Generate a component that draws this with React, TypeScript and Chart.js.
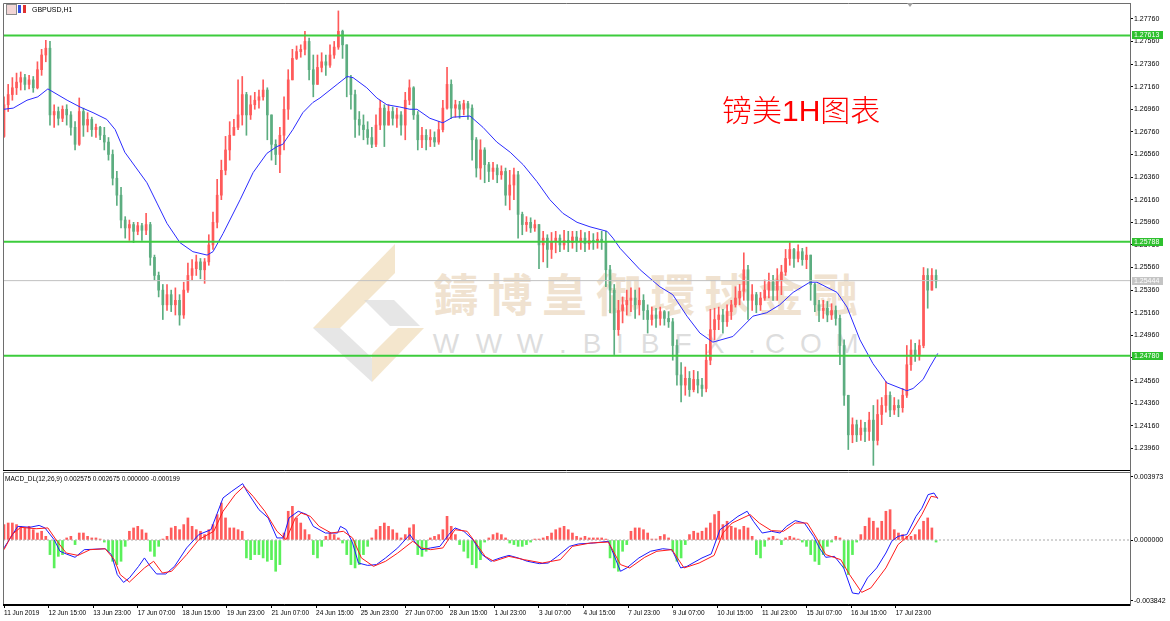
import React, { useEffect, useRef } from "react";
import { Chart, registerables } from "chart.js";
Chart.register(...registerables);

// ---------- price data (3-hour candles, GBPUSD) ----------
const firstOpen = 1.2672;
const closes = [
  1.2700, 1.2709, 1.2715, 1.2720, 1.2724, 1.2718, 1.2722, 1.2715, 1.2731, 1.2744,
  1.2750, 1.2691, 1.2694, 1.2688, 1.2696, 1.2691, 1.2680, 1.2665, 1.2694, 1.2682,
  1.2687, 1.2678, 1.2680, 1.2673, 1.2667, 1.2656, 1.2635, 1.2620, 1.2598, 1.2591,
  1.2594, 1.2588, 1.2593, 1.2589, 1.2594, 1.2565, 1.2549, 1.2536, 1.2523, 1.2532,
  1.2523, 1.2527, 1.2514, 1.2536, 1.2549, 1.2555, 1.2561, 1.2554, 1.2561, 1.2576,
  1.2596, 1.2620, 1.2642, 1.2660, 1.2673, 1.2680, 1.2691, 1.2709, 1.2691, 1.2700,
  1.2704, 1.2707, 1.2713, 1.2691, 1.2665, 1.2656, 1.2673, 1.2696, 1.2722, 1.2741,
  1.2747, 1.2749, 1.2756, 1.2731, 1.2718, 1.2733, 1.2738, 1.2735, 1.2744, 1.2751,
  1.2765, 1.2753, 1.2724, 1.2709, 1.2687, 1.2682, 1.2678, 1.2671, 1.2665, 1.2682,
  1.2697, 1.2682, 1.2694, 1.2688, 1.2691, 1.2682, 1.2704, 1.2715, 1.2691, 1.2669,
  1.2673, 1.2669, 1.2671, 1.2667, 1.2678, 1.2697, 1.2718, 1.2697, 1.2700, 1.2696,
  1.2701, 1.2697, 1.2669, 1.2644, 1.2660, 1.2647, 1.2641, 1.2644, 1.2638, 1.2641,
  1.2620, 1.2629, 1.2638, 1.2603, 1.2594, 1.2596, 1.2591, 1.2594, 1.2576, 1.2582,
  1.2572, 1.2579, 1.2582, 1.2576, 1.2580, 1.2578, 1.2583, 1.2579, 1.2582, 1.2577,
  1.2580, 1.2579, 1.2581, 1.2579, 1.2554, 1.2536, 1.2501, 1.2518, 1.2523, 1.2527,
  1.2529, 1.2523, 1.2527, 1.2518, 1.2510, 1.2514, 1.2511, 1.2517, 1.2511, 1.2508,
  1.2487, 1.2461, 1.2452, 1.2458, 1.2448, 1.2457, 1.2452, 1.2449, 1.2474, 1.2501,
  1.2510, 1.2514, 1.2508, 1.2517, 1.2523, 1.2529, 1.2535, 1.2554, 1.2527, 1.2532,
  1.2523, 1.2529, 1.2536, 1.2543, 1.2536, 1.2545, 1.2552, 1.2564, 1.2572, 1.2564,
  1.2570, 1.2563, 1.2567, 1.2541, 1.2523, 1.2518, 1.2520, 1.2514, 1.2518, 1.2511,
  1.2487, 1.2443, 1.2408, 1.2417, 1.2408, 1.2414, 1.2411, 1.2421, 1.2403, 1.2426,
  1.2434, 1.2443, 1.2430, 1.2434, 1.2432, 1.2443, 1.2470, 1.2483, 1.2479, 1.2487,
  1.2549, 1.2536, 1.2549, 1.2544,
];
const highs = [
  1.2707, 1.2718, 1.2724, 1.2728, 1.2729, 1.2727, 1.2726, 1.2725, 1.2738, 1.2749,
  1.2757, 1.2756, 1.2700, 1.2698, 1.2699, 1.2700, 1.2694, 1.2685, 1.2706, 1.2697,
  1.2693, 1.2689, 1.2683, 1.2681, 1.2680, 1.2671, 1.2660, 1.2641, 1.2627, 1.2601,
  1.2598, 1.2596, 1.2596, 1.2595, 1.2604, 1.2596, 1.2567, 1.2552, 1.2541, 1.2541,
  1.2536, 1.2538, 1.2532, 1.2543, 1.2560, 1.2563, 1.2567, 1.2564, 1.2564, 1.2585,
  1.2605, 1.2634, 1.2651, 1.2672, 1.2685, 1.2687, 1.2722, 1.2725, 1.2711, 1.2708,
  1.2711, 1.2713, 1.2722, 1.2715, 1.2691, 1.2669, 1.2680, 1.2707, 1.2731, 1.2749,
  1.2752, 1.2753, 1.2765, 1.2759, 1.2744, 1.2744, 1.2746, 1.2744, 1.2753, 1.2756,
  1.2783, 1.2766, 1.2753, 1.2726, 1.2713, 1.2694, 1.2691, 1.2685, 1.2680, 1.2691,
  1.2704, 1.2700, 1.2700, 1.2698, 1.2697, 1.2694, 1.2711, 1.2722, 1.2716, 1.2694,
  1.2680, 1.2678, 1.2678, 1.2676, 1.2685, 1.2704, 1.2733, 1.2722, 1.2704, 1.2703,
  1.2704, 1.2703, 1.2700, 1.2671, 1.2669, 1.2662, 1.2649, 1.2649, 1.2647, 1.2646,
  1.2644, 1.2642, 1.2644, 1.2641, 1.2605, 1.2601, 1.2600, 1.2598, 1.2594, 1.2588,
  1.2585, 1.2587, 1.2588, 1.2585, 1.2589, 1.2588, 1.2588, 1.2588, 1.2589, 1.2587,
  1.2588, 1.2586, 1.2587, 1.2588, 1.2588, 1.2558, 1.2541, 1.2527, 1.2530, 1.2536,
  1.2538, 1.2536, 1.2538, 1.2532, 1.2523, 1.2521, 1.2520, 1.2521, 1.2518, 1.2517,
  1.2511, 1.2492, 1.2472, 1.2468, 1.2464, 1.2465, 1.2464, 1.2458, 1.2488, 1.2519,
  1.2520, 1.2521, 1.2519, 1.2523, 1.2527, 1.2539, 1.2541, 1.2569, 1.2558, 1.2541,
  1.2534, 1.2534, 1.2545, 1.2551, 1.2549, 1.2555, 1.2558, 1.2572, 1.2578, 1.2573,
  1.2576, 1.2573, 1.2574, 1.2567, 1.2542, 1.2527, 1.2527, 1.2526, 1.2524, 1.2522,
  1.2514, 1.2492, 1.2443, 1.2423, 1.2421, 1.2421, 1.2419, 1.2428, 1.2434, 1.2439,
  1.2441, 1.2455, 1.2446, 1.2441, 1.2439, 1.2449, 1.2487, 1.2492, 1.2489, 1.2492,
  1.2556, 1.2555, 1.2555, 1.2554,
];
const lows = [
  1.2671, 1.2694, 1.2704, 1.2709, 1.2713, 1.2713, 1.2714, 1.2711, 1.2714, 1.2726,
  1.2738, 1.2682, 1.2680, 1.2682, 1.2685, 1.2682, 1.2673, 1.2660, 1.2664, 1.2672,
  1.2676, 1.2672, 1.2671, 1.2669, 1.2660, 1.2651, 1.2629, 1.2611, 1.2591, 1.2582,
  1.2580, 1.2578, 1.2585, 1.2580, 1.2585, 1.2558, 1.2545, 1.2530, 1.2510, 1.2518,
  1.2517, 1.2514, 1.2505, 1.2511, 1.2534, 1.2545, 1.2549, 1.2546, 1.2542, 1.2558,
  1.2572, 1.2591, 1.2616, 1.2638, 1.2651, 1.2673, 1.2678, 1.2682, 1.2673, 1.2687,
  1.2696, 1.2697, 1.2704, 1.2669, 1.2651, 1.2647, 1.2640, 1.2660, 1.2687, 1.2722,
  1.2740, 1.2742, 1.2744, 1.2722, 1.2707, 1.2720, 1.2729, 1.2726, 1.2733, 1.2741,
  1.2749, 1.2741, 1.2707, 1.2696, 1.2671, 1.2673, 1.2669, 1.2665, 1.2662, 1.2663,
  1.2678, 1.2663, 1.2682, 1.2682, 1.2680, 1.2673, 1.2669, 1.2700, 1.2687, 1.2660,
  1.2662, 1.2660, 1.2663, 1.2663, 1.2665, 1.2676, 1.2696, 1.2688, 1.2689, 1.2688,
  1.2691, 1.2687, 1.2651, 1.2636, 1.2634, 1.2631, 1.2632, 1.2634, 1.2631, 1.2634,
  1.2611, 1.2607, 1.2616, 1.2582, 1.2585, 1.2588, 1.2587, 1.2588, 1.2555, 1.2561,
  1.2556, 1.2564, 1.2569, 1.2570, 1.2572, 1.2570, 1.2573, 1.2570, 1.2572, 1.2570,
  1.2572, 1.2572, 1.2573, 1.2572, 1.2539, 1.2516, 1.2479, 1.2496, 1.2507, 1.2514,
  1.2517, 1.2511, 1.2514, 1.2510, 1.2498, 1.2505, 1.2503, 1.2505, 1.2505, 1.2503,
  1.2474, 1.2452, 1.2437, 1.2443, 1.2442, 1.2446, 1.2445, 1.2442, 1.2446, 1.2470,
  1.2492, 1.2501, 1.2498, 1.2504, 1.2510, 1.2521, 1.2523, 1.2527, 1.2510, 1.2518,
  1.2516, 1.2518, 1.2527, 1.2529, 1.2527, 1.2527, 1.2532, 1.2549, 1.2558, 1.2556,
  1.2561, 1.2558, 1.2555, 1.2527, 1.2517, 1.2508, 1.2511, 1.2508, 1.2510, 1.2505,
  1.2470, 1.2434, 1.2395, 1.2401, 1.2402, 1.2403, 1.2402, 1.2403, 1.2381, 1.2399,
  1.2417, 1.2428, 1.2424, 1.2426, 1.2424, 1.2428, 1.2441, 1.2465, 1.2473, 1.2474,
  1.2485, 1.2520, 1.2536, 1.2538,
];

// moving average (blue line), sampled at bar positions
const maIndex = [
  0, 2.2, 5.5, 8.1, 10.5, 15.1, 18.2, 21.3, 24.6, 26.6,
  28.9, 34.2, 36.6, 39.0, 42.1, 45.2, 48.6, 50.0, 52.4, 56.5,
  59.6, 62.9, 65.3, 66.7, 69.1, 71.5, 73.9, 75.6, 79.7, 82.1,
  83.5, 86.8, 89.2, 91.6, 94.7, 97.1, 98.8, 101.9, 105.0, 107.4,
  111.5, 114.6, 117.9, 121.1, 124.2, 127.5, 130.6, 133.7, 137.1, 140.2,
  144.3, 145.7, 147.4, 152.2, 156.9, 160.0, 163.4, 166.5, 169.6, 174.4,
  179.2, 182.5, 185.6, 188.8, 192.8, 194.5, 199.3, 201.7, 204.8, 207.9,
  211.2, 216.0, 217.5, 219.9, 221.5, 223.4,
];
const maValue = [
  1.2696, 1.2697, 1.2704, 1.2707, 1.2714, 1.2704, 1.2698, 1.2693, 1.2687, 1.2678,
  1.2658, 1.2631, 1.2613, 1.2595, 1.2578, 1.2570, 1.2567, 1.2570, 1.2586, 1.2616,
  1.2640, 1.2657, 1.2663, 1.2665, 1.2678, 1.2693, 1.2702, 1.2706, 1.2718, 1.2725,
  1.2724, 1.2715, 1.2706, 1.2700, 1.2698, 1.2696, 1.2696, 1.2688, 1.2684, 1.2689,
  1.2690, 1.2680, 1.2667, 1.2658, 1.2647, 1.2632, 1.2616, 1.2604, 1.2596, 1.2592,
  1.2588, 1.2582, 1.2573, 1.2554, 1.2539, 1.2532, 1.2513, 1.2498, 1.2490, 1.2495,
  1.2513, 1.2516, 1.2523, 1.2534, 1.2543, 1.2543, 1.2534, 1.2521, 1.2492, 1.2471,
  1.2454, 1.2447, 1.2449, 1.2457, 1.2468, 1.2480,
];

const levelValues = [1.27613, 1.25788, 1.2478];
const lastPrice = 1.25444;
const priceTicks = [
  1.2396, 1.2416, 1.2436, 1.2456, 1.2476, 1.2496, 1.2516, 1.2536, 1.2556, 1.2576,
  1.2596, 1.2616, 1.2636, 1.2656, 1.2676, 1.2696, 1.2716, 1.2736, 1.2756, 1.2776,
];

const timeLabels = [
  "11 Jun 2019", "12 Jun 15:00", "13 Jun 23:00", "17 Jun 07:00", "18 Jun 15:00",
  "19 Jun 23:00", "21 Jun 07:00", "24 Jun 15:00", "25 Jun 23:00", "27 Jun 07:00",
  "28 Jun 15:00", "1 Jul 23:00", "3 Jul 07:00", "4 Jul 15:00", "7 Jul 23:00",
  "9 Jul 07:00", "10 Jul 15:00", "11 Jul 23:00", "15 Jul 07:00", "16 Jul 15:00",
  "17 Jul 23:00",
];
const hoursPerLabel = 32;
const hoursPerBar = 3;

// ---------- MACD ----------
const histValues = [
  0.00097, 0.00107, 0.00107, 0.00097, 0.00086, 0.00076, 0.00086, 0.00065, 0.00044, 0.00055,
  0.00023, -0.00092, -0.00176, -0.00103, -0.00092, 0.00013, 0.00023, -0.00029, 0.00044, 0.00044,
  0.00023, 0.00013, 0.00013, 0.00006, -0.00013, -0.00071, -0.00134, -0.00155, -0.00134, -0.0004,
  0.00055, 0.00076, 0.00086, 0.00065, 0.00044, -0.00071, -0.00103, -0.0004, 0.00006, 0.00023,
  0.00076, 0.00086, 0.00065, 0.00097, 0.00139, 0.00086, 0.00065, 0.00055, 0.00034, 0.00065,
  0.00097, 0.0016, 0.00233, 0.00139, 0.00076, 0.00076, 0.00065, 0.00055, -0.00113, -0.00124,
  -0.00092, -0.00092, -0.00113, -0.00134, -0.00124, -0.00197, -0.00155, 0.00044, 0.00181, 0.00212,
  0.00139, 0.00107, 0.00065, 0.00034, -0.00092, -0.00113, -0.0004, 0.00023, 0.00044, 0.00034,
  0.00013, -0.00019, -0.00092, -0.00155, -0.00176, -0.00155, -0.00092, -0.0004, 0.00013, 0.00065,
  0.00086, 0.00107, 0.00086, 0.00065, 0.00044, 0.00013, 0.00034, 0.00076, 0.00097, -0.00092,
  -0.00103, -0.00071, 0.00013, 0.00023, 0.00034, 0.00065, 0.00149, 0.00086, 0.00034, -0.00029,
  -0.00071, -0.00113, -0.00155, -0.00176, -0.00124, -0.00013, 0.00013, 0.00034, 0.00044, 0.00034,
  0.00013, -0.00019, -0.00029, -0.0004, -0.0004, -0.00029, -0.00013, 0.00006, 0.00006, 0.00013,
  0.00023, 0.00044, 0.00065, 0.00076, 0.00086, 0.00065, 0.00044, 0.00023, 0.00013, 0.00023,
  0.00013, 0.00013, 0.00013, 0.00013, 0.00006, -0.00113, -0.00176, -0.00197, -0.00071, -0.00029,
  0.00055, 0.00076, 0.00076, 0.00065, 0.00044, 0.00006, 0.00006, 0.00023, 0.00034, 0.00013,
  -0.00071, -0.00134, -0.00113, -0.00029, 0.00034, 0.00055, 0.00044, 0.00055, 0.00076, 0.00107,
  0.0016, 0.00181, 0.00097, 0.00118, 0.00086, 0.00076, 0.00065, 0.00086, 0.00076, 0.00023,
  -0.00092, -0.00113, -0.0004, 0.00013, 0.00023, 0.00006, -0.00029, 0.00013, 0.00023, 0.00013,
  0.00006, -0.00013, -0.0004, -0.00092, -0.00134, -0.00155, -0.00092, -0.0004, -0.00013, 0.00023,
  0.00013, -0.00176, -0.00218, -0.00092, -0.00013, 0.00034, 0.00086, 0.00139, 0.00118, 0.00076,
  0.00118, 0.00181, 0.00191, 0.00065, 0.00044, 0.00034, 0.00023, 0.00023, 0.00034, 0.00065,
  0.00118, 0.00139, 0.00076, -0.00013,
];
const macdIndex = [
  0, 3.3, 6.2, 8.4, 9.8, 12.0, 13.4, 14.9, 17.0, 19.2,
  24.2, 25.7, 27.1, 28.6, 30.0, 32.2, 33.6, 35.0, 36.5, 38.7,
  40.8, 43.7, 46.6, 49.5, 50.9, 52.4, 54.5, 57.1, 58.1, 61.0,
  63.2, 65.3, 66.8, 68.2, 70.4, 72.5, 74.0, 76.9, 79.8, 80.5,
  81.9, 83.4, 84.8, 87.0, 89.1, 91.3, 94.2, 97.1, 98.5, 99.9,
  102.1, 104.3, 106.4, 107.9, 110.0, 112.2, 114.4, 116.5, 118.7, 120.8,
  123.0, 125.2, 128.1, 130.2, 132.4, 135.3, 137.4, 141.0, 144.6, 147.5,
  149.0, 151.9, 154.7, 157.6, 159.8, 161.9, 163.4, 167.0, 169.2, 171.3,
  173.5, 175.6, 177.8, 179.3, 181.4, 183.6, 185.7, 187.2, 189.3, 191.5,
  193.7, 195.1, 196.6, 198.7, 200.9, 203.0, 204.5, 206.6, 208.8, 211.0,
  212.4, 213.9, 216.0, 218.2, 219.6, 221.1, 222.5, 223.4,
];
const macdValues = [
  -0.0005, 0.00086, 0.0008, 0.00092, 0.00076, 0.00002, -0.00071, -0.00088, -0.00109, -0.00061,
  -0.00055, -0.00092, -0.00218, -0.00267, -0.00239, -0.00166, -0.00113, -0.00166, -0.00214, -0.00214,
  -0.00166, -0.0005, 0.00034, 0.00065, 0.0016, 0.00265, 0.00307, 0.00355, 0.00307, 0.00191,
  0.00139, 0.00013, 0.00013, 0.00139, 0.00181, 0.0016, 0.00086, 0.00044, 0.00044, 0.00086,
  0.00065, -0.00019, -0.00145, -0.0016, -0.00155, -0.00113, -0.0005, 0.00034, -0.00019, -0.00061,
  -0.0005, -0.0004, 0.00034, 0.00076, 0.00055, 0.00002, -0.00092, -0.00134, -0.00113, -0.00097,
  -0.00113, -0.00134, -0.00149, -0.00145, -0.00103, -0.0004, -0.00025, -0.00019, -0.00008, -0.00197,
  -0.00176, -0.00113, -0.00071, -0.00055, -0.00061, -0.00176, -0.00166, -0.00113, -0.00088, 0.00065,
  0.00107, 0.00149, 0.00181, 0.00118, 0.00044, 0.00055, 0.00044, 0.00086, 0.00122, 0.00107,
  0.00023, -0.0005, -0.00109, -0.00103, -0.00176, -0.00334, -0.0034, -0.00239, -0.00176, -0.00082,
  -0.00008, 0.00023, 0.00034, 0.00149, 0.002, 0.00286, 0.00296, 0.0026,
];
const signalIndex = [
  0, 1.9, 4.0, 7.7, 10.5, 12.7, 14.9, 17.7, 20.6, 24.2,
  26.4, 27.8, 30.0, 33.6, 35.8, 37.9, 40.1, 43.7, 46.6, 50.2,
  52.4, 55.3, 57.4, 59.6, 62.4, 65.3, 67.5, 69.7, 71.1, 73.3,
  75.4, 78.3, 81.2, 83.4, 85.5, 88.4, 91.3, 94.2, 97.8, 99.9,
  102.1, 105.0, 107.9, 110.8, 112.9, 115.1, 117.2, 120.8, 124.5, 128.8,
  133.1, 136.0, 140.3, 144.6, 147.5, 149.7, 153.3, 156.2, 159.8, 162.7,
  166.3, 169.9, 172.0, 174.2, 178.5, 180.7, 183.6, 186.5, 189.3, 192.2,
  194.4, 196.6, 200.2, 202.3, 205.2, 207.4, 211.0, 213.9, 216.7, 219.6,
  221.8, 223.4,
];
const signalValues = [
  -0.00061, 0.00034, 0.0008, 0.00071, 0.00076, -0.00008, -0.00082, -0.00097, -0.00061, -0.00055,
  -0.00124, -0.00218, -0.00265, -0.00176, -0.00134, -0.00208, -0.00197, -0.00092, 0.00002, 0.00055,
  0.00181, 0.00286, 0.00338, 0.00275, 0.00181, 0.00055, 0.00002, 0.00139, 0.0017, 0.00149,
  0.00086, 0.00044, 0.00055, 0.00013, -0.00113, -0.00166, -0.00134, -0.00082, -0.00008, -0.0005,
  -0.00061, -0.0005, 0.00065, 0.00055, -0.00019, -0.00103, -0.00134, -0.00103, -0.00124, -0.00145,
  -0.00124, -0.0004, -0.00019, -0.00013, -0.00155, -0.00176, -0.00109, -0.00071, -0.00061, -0.00176,
  -0.00145, -0.00097, 0.00044, 0.00107, 0.0016, 0.00107, 0.00059, 0.00055, 0.00107, 0.00107,
  0.00013, -0.00092, -0.00124, -0.00218, -0.0033, -0.00302, -0.00176, -0.00029, 0.00034, 0.0016,
  0.00275, 0.00268,
];
const macdTicks = [-0.003842, 0, 0.003973];

// ---------- view ----------
const X_MIN = -0.24;
const X_MAX = 269.4;
const FONT = "'Liberation Sans', Arial, sans-serif";
const BULL = "#ff5a5a";
const BEAR = "#5cad80";

const framePlugin = {
  id: "frame",
  afterDatasetsDraw(chart: any) {
    const { ctx, chartArea } = chart;
    const { left, top, right, bottom } = chartArea;
    ctx.save();
    ctx.strokeStyle = "#6e6e6e";
    ctx.lineWidth = 1;
    ctx.beginPath();
    ctx.moveTo(left + 0.5, bottom);
    ctx.lineTo(left + 0.5, top + 0.5);
    ctx.lineTo(right, top + 0.5);
    ctx.stroke();
    ctx.strokeStyle = "#000";
    ctx.beginPath();
    ctx.moveTo(left, bottom - 0.5);
    ctx.lineTo(right, bottom - 0.5);
    ctx.stroke();
    ctx.restore();
  },
};

const levelTagPlugin = {
  id: "levelTags",
  afterDraw(chart: any) {
    const { ctx } = chart;
    const y = chart.scales.y;
    const tags = [
      ...levelValues.map((v) => ({ v, bg: "#2ec12e" })),
      { v: lastPrice, bg: "#c4c4c4" },
    ];
    ctx.save();
    ctx.font = `7px ${FONT}`;
    ctx.textBaseline = "middle";
    ctx.textAlign = "left";
    for (const t of tags) {
      const py = Math.round(y.getPixelForValue(t.v));
      ctx.fillStyle = t.bg;
      ctx.fillRect(y.left + 2, py - 4, 31, 8);
      ctx.fillStyle = "#fff";
      ctx.fillText(t.v.toFixed(5), y.left + 4, py + 0.5);
    }
    ctx.restore();
  },
};

const xScaleBase = {
  type: "linear",
  min: X_MIN,
  max: X_MAX,
  offset: false,
  bounds: "data",
};

export default function App() {
  const priceRef = useRef<HTMLCanvasElement>(null);
  const macdRef = useRef<HTMLCanvasElement>(null);

  useEffect(() => {
    Chart.defaults.font.family = FONT;
    const opens = closes.map((c, i) => (i === 0 ? firstOpen : closes[i - 1]));
    const isUp = closes.map((c, i) => c >= opens[i]);
    const bodies = closes.map((c, i) => ({ x: i, y: [opens[i], c] }));
    const wicks = closes.map((c, i) => ({
      x: i,
      y: [Math.min(lows[i], opens[i], c), Math.max(highs[i], opens[i], c)],
    }));
    const colorOf = (ctx: any) => (isUp[ctx.dataIndex] ? BULL : BEAR);

    const priceChart = new Chart(priceRef.current!, {
      type: "bar",
      data: {
        datasets: [
          ...levelValues.map((v) => ({
            type: "line" as const,
            data: [{ x: X_MIN, y: v }, { x: X_MAX, y: v }],
            borderColor: "#3ccc3c",
            borderWidth: 2,
            pointRadius: 0,
            order: 0,
          })),
          {
            type: "line" as const,
            data: [{ x: X_MIN, y: lastPrice }, { x: X_MAX, y: lastPrice }],
            borderColor: "#c0c0c0",
            borderWidth: 1,
            pointRadius: 0,
            order: 1,
          },
          {
            type: "line" as const,
            data: maIndex.map((x, i) => ({ x, y: maValue[i] })),
            borderColor: "#2b2bff",
            borderWidth: 1,
            pointRadius: 0,
            tension: 0,
            order: 2,
          },
          {
            type: "bar" as const,
            data: bodies as any,
            backgroundColor: colorOf,
            barThickness: 2,
            grouped: false,
            minBarLength: 1,
            order: 3,
          },
          {
            type: "bar" as const,
            data: wicks as any,
            backgroundColor: colorOf,
            barThickness: 1,
            grouped: false,
            order: 4,
          },
        ],
      },
      options: {
        animation: false,
        responsive: false,
        devicePixelRatio: 1,
        layout: { padding: { left: 3, top: 3, right: 0, bottom: 1 } },
        plugins: { legend: { display: false }, tooltip: { enabled: false } },
        scales: {
          x: { ...xScaleBase, display: false, grid: { offset: false } },
          y: {
            position: "right",
            min: 1.2376,
            max: 1.279,
            afterFit: (s: any) => {
              s.width = 40;
              s.paddingTop = 0;
              s.paddingBottom = 0;
            },
            afterBuildTicks: (s: any) => {
              s.ticks = priceTicks.map((value) => ({ value }));
            },
            ticks: {
              autoSkip: false,
              padding: 1,
              color: "#000",
              font: { size: 7 },
              callback: (v: any) => Number(v).toFixed(5),
            },
            grid: { drawOnChartArea: false, tickLength: 3, color: "#000" },
            border: { color: "#6e6e6e" },
          },
        },
      },
      plugins: [framePlugin, levelTagPlugin],
    } as any);

    const macdChart = new Chart(macdRef.current!, {
      type: "bar",
      data: {
        datasets: [
          {
            type: "line" as const,
            data: [{ x: X_MIN, y: 0 }, { x: X_MAX, y: 0 }],
            borderColor: "#a8a8a8",
            borderDash: [2, 2],
            borderWidth: 1,
            pointRadius: 0,
            order: 2,
          },
          {
            type: "line" as const,
            data: signalIndex.map((x, i) => ({ x, y: signalValues[i] })),
            borderColor: "#ff1a1a",
            borderWidth: 1,
            pointRadius: 0,
            order: 0,
          },
          {
            type: "line" as const,
            data: macdIndex.map((x, i) => ({ x, y: macdValues[i] })),
            borderColor: "#1a1aff",
            borderWidth: 1,
            pointRadius: 0,
            order: 1,
          },
          {
            type: "bar" as const,
            data: histValues.map((y, x) => ({ x, y })) as any,
            backgroundColor: (c: any) =>
              histValues[c.dataIndex] >= 0 ? "#ff5c5c" : "#5af05a",
            barThickness: 2,
            grouped: false,
            order: 3,
          },
        ],
      },
      options: {
        animation: false,
        responsive: false,
        devicePixelRatio: 1,
        layout: { padding: { left: 3, top: 6, right: 0, bottom: 0 } },
        plugins: { legend: { display: false }, tooltip: { enabled: false } },
        scales: {
          x: {
            ...xScaleBase,
            position: "bottom",
            afterFit: (s: any) => {
              s.height = 16;
              s.paddingLeft = 0;
              s.paddingRight = 0;
            },
            afterBuildTicks: (s: any) => {
              s.ticks = timeLabels.map((_, k) => ({
                value: (k * hoursPerLabel) / hoursPerBar,
              }));
            },
            ticks: {
              autoSkip: false,
              maxRotation: 0,
              minRotation: 0,
              align: "start",
              padding: 1,
              color: "#000",
              font: { size: 6.5 },
              callback: (_v: any, idx: number) => timeLabels[idx],
            },
            grid: { drawOnChartArea: false, tickLength: 3, color: "#000", offset: false },
            border: { color: "#000" },
          },
          y: {
            position: "right",
            min: -0.004095,
            max: 0.004284,
            afterFit: (s: any) => {
              s.width = 40;
              s.paddingTop = 0;
              s.paddingBottom = 0;
            },
            afterBuildTicks: (s: any) => {
              s.ticks = macdTicks.map((value) => ({ value }));
            },
            ticks: {
              autoSkip: false,
              padding: 1,
              color: "#000",
              font: { size: 7 },
              callback: (v: any) => Number(v).toFixed(6),
            },
            grid: { drawOnChartArea: false, tickLength: 3, color: "#000" },
            border: { color: "#6e6e6e" },
          },
        },
      },
      plugins: [framePlugin],
    } as any);

    return () => {
      priceChart.destroy();
      macdChart.destroy();
    };
  }, []);

  const wmChars = ["鑄", "博", "皇", "御", "環", "球", "金", "融"];
  const urlChars = ["W", "W", "W", ".", "B", "I", "B", "F", "X", ".", "C", "O", "M"];
  const urlX = [446, 489, 530, 563, 592, 620, 650, 683, 715, 752, 775, 811, 847];

  return (
    <div
      style={{
        position: "absolute",
        left: 0,
        top: 0,
        width: 1170,
        height: 621,
        overflow: "hidden",
        background: "#fff",
        fontFamily: FONT,
      }}
    >
      <svg width={1170} height={621} style={{ position: "absolute", left: 0, top: 0 }}>
        <polygon points="395,244 395,273 340,328 313,328" fill="rgba(236,214,172,0.6)" />
        <polygon points="313,328 340,328 372,358 372,382" fill="rgba(214,214,214,0.6)" />
        <polygon points="364,300 394,300 420,326 390,326" fill="rgba(214,214,214,0.6)" />
        <polygon points="372,382 372,354 398,328 424,328" fill="rgba(236,214,172,0.6)" />
        {wmChars.map((c, i) => (
          <text
            key={i}
            x={456 + i * 54.2}
            y={312}
            textAnchor="middle"
            fontSize={45}
            fontWeight={700}
            fill="rgba(234,214,188,0.7)"
            fontFamily="'Noto Sans CJK TC', 'Noto Sans CJK SC', sans-serif"
          >
            {c}
          </text>
        ))}
        {urlChars.map((c, i) => (
          <text
            key={"u" + i}
            x={urlX[i]}
            y={353}
            textAnchor="middle"
            fontSize={28}
            fill="rgba(210,210,210,0.75)"
            fontFamily={FONT}
          >
            {c}
          </text>
        ))}
      </svg>

      <canvas
        ref={priceRef}
        width={1170}
        height={472}
        style={{ position: "absolute", left: 0, top: 0, width: 1170, height: 472 }}
      />
      <canvas
        ref={macdRef}
        width={1170}
        height={155}
        style={{ position: "absolute", left: 0, top: 466, width: 1170, height: 155 }}
      />

      <div style={{ position: "absolute", left: 6, top: 4, width: 9, height: 9, border: "1px solid #8a8a8a", background: "#f2d6d6" }} />
      <div style={{ position: "absolute", left: 18, top: 5, width: 3, height: 8, background: "#3050e0" }} />
      <div style={{ position: "absolute", left: 23, top: 5, width: 3, height: 8, background: "#e03030" }} />
      <div style={{ position: "absolute", left: 32, top: 5, fontSize: 7, color: "#000", lineHeight: "9px", whiteSpace: "nowrap" }}>
        GBPUSD,H1
      </div>
      <div
        style={{
          position: "absolute",
          left: 907,
          top: 3,
          width: 0,
          height: 0,
          borderLeft: "3px solid transparent",
          borderRight: "3px solid transparent",
          borderTop: "4px solid #a0a0a0",
        }}
      />

      <div
        style={{
          position: "absolute",
          left: 722,
          top: 89,
          fontSize: 30,
          color: "#ff0000",
          whiteSpace: "nowrap",
          fontFamily: "'Noto Sans CJK SC', sans-serif",
          fontWeight: 300,
          lineHeight: "38px",
        }}
      >
        镑美<span style={{ fontFamily: FONT, fontWeight: 400 }}>1H</span>图表
      </div>

      <div style={{ position: "absolute", left: 5, top: 474, fontSize: 6.5, color: "#000", lineHeight: "9px", whiteSpace: "nowrap" }}>
        MACD_DL(12,26,9) 0.002575 0.002675 0.000000 -0.000199
      </div>
    </div>
  );
}
